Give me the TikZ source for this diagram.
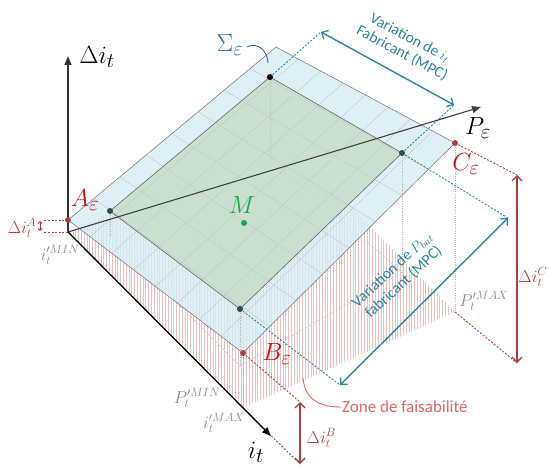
\documentclass[tikz,border=0pt]{standalone}
\usepackage{fontspec}
\newfontfamily\carl{Carlito}
\usetikzlibrary{arrows.meta,patterns.meta,calc}
\definecolor{dred}{HTML}{A5443F}
\definecolor{lred}{HTML}{C0141C}
\definecolor{tealc}{HTML}{31859C}
\definecolor{sigblue}{HTML}{2F6FAD}
\definecolor{mgreen}{HTML}{1AA64A}
\definecolor{planefill}{HTML}{D6EBF4}
\definecolor{greenfill}{HTML}{C3DDC6}
\definecolor{hatchc}{HTML}{EDBFBF}
\definecolor{greylab}{HTML}{8C8C8C}
\definecolor{zonec}{HTML}{E2656C}
\definecolor{dotgrey}{HTML}{34474A}
\begin{document}
\begin{tikzpicture}[x=1pt,y=-1pt,
  barbs/.style={{Straight Barb[length=5pt,width=10pt,line width=1.3pt]}-{Straight Barb[length=5pt,width=10pt,line width=1.3pt]}},
  dimred/.style={draw=dred,line width=1.4pt,barbs},
  tealarr/.style={draw=tealc,line width=1.4pt,barbs},
  tealdash/.style={draw=tealc,line width=0.9pt,dash pattern=on 2pt off 1.6pt},
  reddash/.style={draw=dred,line width=0.9pt,dash pattern=on 2pt off 1.6pt},
  greydot/.style={draw=black!30,line width=0.5pt,dash pattern=on 1pt off 1.2pt},
  grounddash/.style={draw=black!22,line width=0.5pt,dash pattern=on 3pt off 2pt},
  gridline/.style={draw=black!22,line width=0.45pt},
  axisline/.style={draw=black!80,line width=1.3pt,-{Triangle[length=9pt,width=7pt]}},
  ptdot/.style={circle,fill=#1,inner sep=0pt,minimum size=6pt},
  axlab/.style={font=\fontsize{24.88}{27}\selectfont},
  ptlab/.style={font=\fontsize{24.88}{27}\selectfont,text=lred},
  dimlab/.style={font=\fontsize{17.28}{19}\selectfont,text=dred,inner sep=0.5pt},
  greylabel/.style={font=\fontsize{17.28}{19}\selectfont,text=greylab,inner sep=1pt},
  tealtext/.style={font=\carl\fontsize{15.5}{17}\selectfont,text=tealc,align=center},
]
\useasboundingbox (0,0) rectangle (549,468);
% key points
\coordinate (O) at (68,232);
\coordinate (AxTop) at (68,56);
\coordinate (PTip) at (481,107);
\coordinate (ITip) at (271,436);
\coordinate (A) at (68,220);
\coordinate (T) at (276,47);
\coordinate (C) at (455,143);
\coordinate (B) at (243,353);
\coordinate (GL) at (110,211);
\coordinate (GT) at (270,77);
\coordinate (GR) at (402,153);
\coordinate (GB) at (240,309);
\coordinate (Bg) at (243,408);
\coordinate (Cg) at (455,312);
\coordinate (Tg) at (280,136);
\coordinate (PL) at (110,236);
\coordinate (PT) at (271,160);
\coordinate (PR) at (402,272);
\coordinate (PB) at (240,366);
\coordinate (U1) at (321,32);
\coordinate (U2) at (454,105);
\coordinate (L1) at (340,385);
\coordinate (L2) at (508,218);
\coordinate (Cd1) at (517,175);
\coordinate (Cd2) at (517,363);
\coordinate (Bd1) at (300,402);
\coordinate (Bd2) at (300,464);
\coordinate (Ad1) at (43,220);
\coordinate (Ad2) at (43,232);
% feasibility zone (hatched)
\fill[pattern={Lines[angle=90,distance=2.8pt,line width=0.45pt]},pattern color=hatchc]
  (O) -- (Bg) -- (Cg) -- (Tg) -- cycle;
% ground projection of the inner rectangle
\draw[grounddash] (PL) -- (PT) -- (PR) -- (PB) -- cycle;
% plane Sigma
\fill[planefill,opacity=0.8] (A) -- (T) -- (C) -- (B) -- cycle;
\fill[greenfill,opacity=0.75] (GL) -- (GT) -- (GR) -- (GB) -- cycle;
\foreach \k in {1,...,7}{
  \draw[gridline] ($(A)!\k/8!(T)$) -- ($(B)!\k/8!(C)$);
  \draw[gridline] ($(A)!\k/8!(B)$) -- ($(T)!\k/8!(C)$);
}
\draw[draw=black!55,line width=0.5pt] (A) -- (T) -- (C) -- (B) -- cycle;
\draw[draw=black!60,line width=0.6pt] (GL) -- (GT) -- (GR) -- (GB) -- cycle;
% vertical projection lines
\draw[greydot] (GT) -- (PT);
\draw[greydot] (GR) -- (PR);
\draw[greydot] (GL) -- (PL);
\draw[greydot] (GB) -- (PB);
\draw[greydot] (C) -- (Cg);
\draw[greydot] (B) -- (Bg);
% dimension lines (red)
\draw[reddash] (A) -- (Ad1);
\draw[reddash] (O) -- (Ad2);
\draw[reddash] (C) -- (Cd1);
\draw[reddash] (Cg) -- (Cd2);
\draw[reddash] (B) -- (Bd1);
\draw[reddash] (Bg) -- (Bd2);
\draw[dimred] (Cd1) -- (Cd2);
\draw[dimred] (Bd1) -- (Bd2);
\draw[draw=dred,line width=0.9pt,{Straight Barb[length=2pt,width=4pt]}-{Straight Barb[length=2pt,width=4pt]}] (40,221) -- (40,231);
% teal variation arrows
\draw[tealdash] (GT) -- (U1);
\draw[tealdash] (GR) -- (U2);
\draw[tealdash] (GR) -- (L2);
\draw[tealdash] (GB) -- (L1);
\draw[tealarr] (U1) -- (U2);
\draw[tealarr] (L1) -- (L2);
% axes
\draw[axisline] (O) -- (AxTop);
\draw[axisline,draw=black!75,line width=1.1pt] (O) -- (PTip);
\draw[axisline,draw=black] (O) -- (ITip);
% points
\node[ptdot=black] (nGT) at (GT) {};
\node[ptdot=dotgrey] (nGL) at (GL) {};
\node[ptdot=dotgrey] (nGR) at (GR) {};
\node[ptdot=dotgrey] (nGB) at (GB) {};
\node[ptdot=dred] (nA) at (A) {};
\node[ptdot=dred] (nB) at (B) {};
\node[ptdot=dred] (nC) at (C) {};
\node[ptdot=mgreen] (nM) at (244,223) {};
% labels
\node[axlab] (lDi) at (97,57) {$\Delta i_t$};
\node[axlab] (lP) at (478,128) {$P_\varepsilon$};
\node[axlab] (li) at (256,452) {$i_t$};
\node[ptlab] (lA) at (85,200) {$A_\varepsilon$};
\node[ptlab] (lB) at (277,354) {$B_\varepsilon$};
\node[ptlab] (lC) at (466,164) {$C_\varepsilon$};
\node[font=\fontsize{24.88}{27}\selectfont,text=mgreen] (lM) at (242,205) {$M$};
\node[font=\fontsize{24.88}{27}\selectfont,text=sigblue] (lS) at (230,45) {$\Sigma_\varepsilon$};
\draw[draw=sigblue,line width=0.9pt] (lS.east) ++(0,2) .. controls (258,41) and (268,52) .. (268,63);
\node[dimlab,anchor=east] (lDA) at (37,228) {$\Delta i_t^A$};
\node[dimlab,anchor=west] (lDB) at (306,438) {$\Delta i_t^B$};
\node[dimlab,anchor=east] (lDC) at (548,277) {$\Delta i_t^C$};
\node[greylabel] (liMin) at (60,255) {$i_t^{\prime MIN}$};
\node[greylabel] (lPMin) at (197,398) {$P_t^{\prime MIN}$};
\node[greylabel] (liMax) at (224,423) {$i_t^{\prime MAX}$};
\node[greylabel] (lPMax) at (484,301) {$P_t^{\prime MAX}$};
\node[tealtext,rotate=-28] (lVi) at (406,46) {Variation de $i_t$\\Fabricant (MPC)};
\node[tealtext,rotate=43] (lVp) at (398,276) {Variation de $P_{bat}$\\fabricant (MPC)};
\node[font=\carl\fontsize{17}{19}\selectfont,text=zonec,anchor=west,inner sep=1pt] (lZ) at (341,407) {Zone de faisabilité};
\draw[draw=zonec,line width=0.9pt] (303,378) .. controls (305,400) and (320,407) .. (lZ.west);
\end{tikzpicture}
\end{document}
